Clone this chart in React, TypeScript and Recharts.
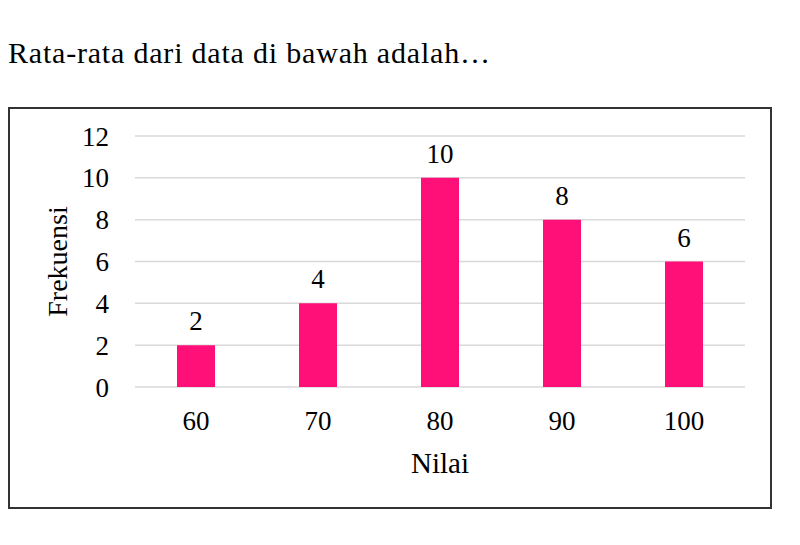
import React from 'react';
import { BarChart, Bar, XAxis, YAxis, CartesianGrid, LabelList, Label } from 'recharts';

const nilai = ['60', '70', '80', '90', '100'];
const frekuensi = [2, 4, 10, 8, 6];
const yTicks = [0, 2, 4, 6, 8, 10, 12];

const data = nilai.map((n, i) => ({ nilai: n, frekuensi: frekuensi[i] }));

const FONT = '"Liberation Serif", "Times New Roman", serif';

const YTitle = (props: any) => {
  const { viewBox } = props;
  const cx = 47;
  const cy = viewBox.y + viewBox.height / 2;
  return (
    <text
      x={cx}
      y={cy}
      transform={`rotate(-90, ${cx}, ${cy})`}
      textAnchor="middle"
      dominantBaseline="central"
      fontSize={28}
      fontFamily={FONT}
      fill="#000"
    >
      Frekuensi
    </text>
  );
};

const XTitle = (props: any) => {
  const { viewBox } = props;
  const cx = viewBox.x + viewBox.width / 2;
  const cy = viewBox.y + 76;
  return (
    <text x={cx} y={cy} textAnchor="middle" dominantBaseline="central" fontSize={29} fontFamily={FONT} fill="#000">
      Nilai
    </text>
  );
};

export default function App() {
  return (
    <div style={{ position: 'relative', width: 784, height: 529, fontFamily: FONT }}>
      <div
        style={{
          position: 'absolute',
          left: 0,
          top: 28,
          fontSize: 30,
          letterSpacing: 0.8,
          lineHeight: 'normal',
          color: '#000',
          whiteSpace: 'nowrap',
        }}
      >
        Rata-rata dari data di bawah adalah…
      </div>
      <div
        style={{
          position: 'absolute',
          left: 0,
          top: 99,
          width: 764,
          height: 402,
          boxSizing: 'border-box',
          border: '2px solid #333',
        }}
      >
        <BarChart width={760} height={398} data={data} margin={{ top: 27, right: 25, left: 0, bottom: 20 }}>
          <CartesianGrid vertical={false} stroke="#d9d9d9" strokeWidth={1.5} />
          <XAxis
            dataKey="nilai"
            height={100}
            axisLine={false}
            tickLine={false}
            tickSize={0}
            tickMargin={24}
            tick={{ fontSize: 27, fill: '#000', fontFamily: FONT }}
          >
            <Label content={<XTitle />} />
          </XAxis>
          <YAxis
            width={125}
            domain={[0, 12]}
            ticks={yTicks}
            interval={0}
            axisLine={false}
            tickLine={false}
            tickSize={0}
            tickMargin={26}
            tick={{ fontSize: 27, fill: '#000', fontFamily: FONT }}
          >
            <Label content={<YTitle />} />
          </YAxis>
          <Bar dataKey="frekuensi" fill="#ff1078" barSize={38} isAnimationActive={false}>
            <LabelList dataKey="frekuensi" position="top" offset={15} fontSize={27} fill="#000" fontFamily={FONT} />
          </Bar>
        </BarChart>
      </div>
    </div>
  );
}
